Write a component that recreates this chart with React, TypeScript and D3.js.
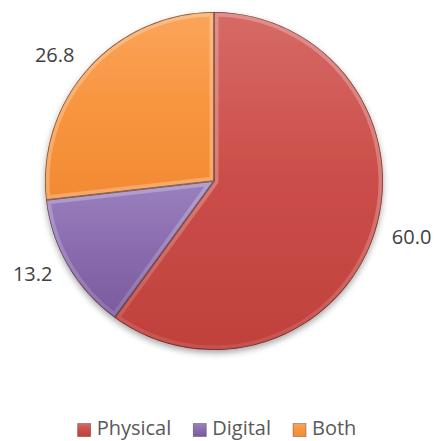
import React from "react";
import * as d3 from "d3";

const categories = ["Physical", "Digital", "Both"];
const values = [60.0, 13.2, 26.8];
const labels = ["60.0", "13.2", "26.8"];
const colors = ["#CB4D49", "#8A6CAE", "#F8953F"];
const lightColors = ["#D66A66", "#9A80BE", "#FAA55C"];
const darkColors = ["#C0413D", "#7A5A9D", "#F28A33"];

const W = 434;
const H = 441;
const FONT = "'Open Sans', Lato, sans-serif";

function measure(text: string, size: number) {
  const c = document.createElement("canvas").getContext("2d");
  if (!c) return text.length * size * 0.5;
  c.font = `${size}px 'Open Sans'`;
  return c.measureText(text).width;
}

export default function App() {
  const cx = 214;
  const cy = 181;
  const r = 169;
  const pie = d3.pie<number>().sort(null).value((d) => d)(values);
  const arc = d3.arc<d3.PieArcDatum<number>>().innerRadius(0).outerRadius(r);
  const labelR = 187;
  const fontSize = 20;

  // legend layout
  const sq = 13;
  const gap = 6;
  const spacing = 22;
  const widths = categories.map((c) => measure(c, fontSize));
  const total = widths.reduce((a, w) => a + sq + gap + w, 0) + spacing * (categories.length - 1);
  let lx = W / 2 - total / 2;
  const legendItems = categories.map((c, i) => {
    const x = lx;
    lx += sq + gap + widths[i] + spacing;
    return { c, x, i };
  });
  const legendY = 430;

  return (
    <svg width={W} height={H} style={{ position: "absolute", left: 0, top: 0, background: "#fff" }}>
      <defs>
        <filter id="shadow" x="-20%" y="-20%" width="140%" height="140%">
          <feDropShadow dx="0" dy="3" stdDeviation="3" floodColor="#000" floodOpacity="0.35" />
        </filter>
        {categories.map((c, i) => (
          <linearGradient key={c} id={`g${i}`} x1="0" y1="0" x2="0" y2="1">
            <stop offset="0" stopColor={lightColors[i]} />
            <stop offset="0.5" stopColor={colors[i]} />
            <stop offset="1" stopColor={darkColors[i]} />
          </linearGradient>
        ))}
        <linearGradient id="bevel" gradientUnits="userSpaceOnUse" x1="0" y1={cy - r} x2="0" y2={cy + r}>
          <stop offset="0" stopColor="#fff" stopOpacity="0.25" />
          <stop offset="0.5" stopColor="#fff" stopOpacity="0.08" />
          <stop offset="0.75" stopColor="#000" stopOpacity="0.08" />
          <stop offset="1" stopColor="#000" stopOpacity="0.3" />
        </linearGradient>
        {pie.map((p, i) => (
          <clipPath key={i} id={`clip${i}`}>
            <path d={arc(p) || ""} transform={`translate(${cx},${cy})`} />
          </clipPath>
        ))}
      </defs>
      <g filter="url(#shadow)">
        {pie.map((p, i) => (
          <path
            key={i}
            d={arc(p) || ""}
            transform={`translate(${cx},${cy})`}
            fill={`url(#g${i})`}
          />
        ))}
      </g>
      {pie.map((p, i) => (
        <g key={"b" + i} clipPath={`url(#clip${i})`}>
          <path
            d={arc(p) || ""}
            transform={`translate(${cx},${cy})`}
            fill="none"
            stroke="url(#bevel)"
            strokeWidth={9}
            strokeLinejoin="round"
          />
          <path
            d={arc(p) || ""}
            transform={`translate(${cx},${cy})`}
            fill="none"
            stroke="#3a1a10"
            strokeOpacity={0.6}
            strokeWidth={1.6}
          />
        </g>
      ))}
      {pie.map((p, i) => {
        const a = (p.startAngle + p.endAngle) / 2;
        const x = cx + Math.sin(a) * labelR;
        const y = cy - Math.cos(a) * labelR;
        const anchor = Math.sin(a) >= 0 ? "start" : "end";
        return (
          <text
            key={"l" + i}
            x={x}
            y={y}
            textAnchor={anchor}
            dominantBaseline="middle"
            fontFamily={FONT}
            fontSize={fontSize}
            fill="#404040"
          >
            {labels[i]}
          </text>
        );
      })}
      {legendItems.map(({ c, x, i }) => (
        <g key={"lg" + i}>
          <rect x={x} y={legendY - sq / 2} width={sq} height={sq} fill={`url(#g${i})`} stroke="#000" strokeOpacity={0.35} strokeWidth={0.8} />
          <text
            x={x + sq + gap}
            y={legendY}
            dominantBaseline="middle"
            fontFamily={FONT}
            fontSize={fontSize}
            fill="#595959"
          >
            {c}
          </text>
        </g>
      ))}
    </svg>
  );
}
